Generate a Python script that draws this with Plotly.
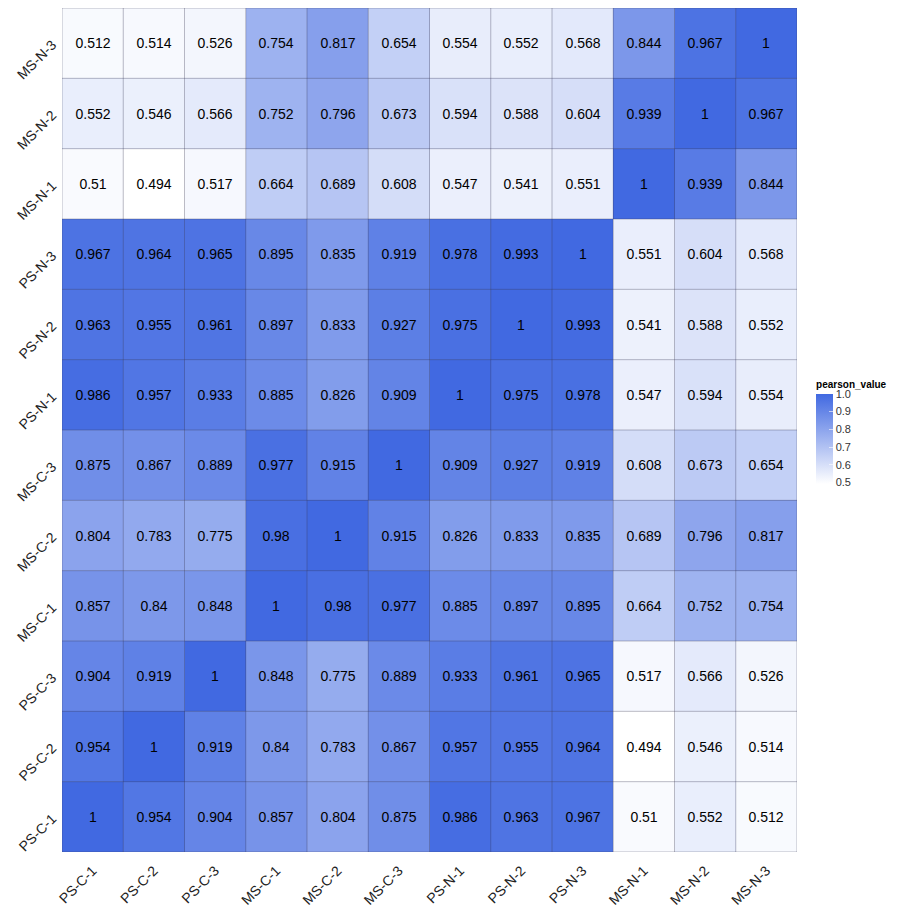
import plotly.graph_objects as go

samples = ["PS-C-1", "PS-C-2", "PS-C-3", "MS-C-1", "MS-C-2", "MS-C-3",
           "PS-N-1", "PS-N-2", "PS-N-3", "MS-N-1", "MS-N-2", "MS-N-3"]

row_PS_C_1 = [1, 0.954, 0.904, 0.857, 0.804, 0.875, 0.986, 0.963, 0.967, 0.51, 0.552, 0.512]
row_PS_C_2 = [0.954, 1, 0.919, 0.84, 0.783, 0.867, 0.957, 0.955, 0.964, 0.494, 0.546, 0.514]
row_PS_C_3 = [0.904, 0.919, 1, 0.848, 0.775, 0.889, 0.933, 0.961, 0.965, 0.517, 0.566, 0.526]
row_MS_C_1 = [0.857, 0.84, 0.848, 1, 0.98, 0.977, 0.885, 0.897, 0.895, 0.664, 0.752, 0.754]
row_MS_C_2 = [0.804, 0.783, 0.775, 0.98, 1, 0.915, 0.826, 0.833, 0.835, 0.689, 0.796, 0.817]
row_MS_C_3 = [0.875, 0.867, 0.889, 0.977, 0.915, 1, 0.909, 0.927, 0.919, 0.608, 0.673, 0.654]
row_PS_N_1 = [0.986, 0.957, 0.933, 0.885, 0.826, 0.909, 1, 0.975, 0.978, 0.547, 0.594, 0.554]
row_PS_N_2 = [0.963, 0.955, 0.961, 0.897, 0.833, 0.927, 0.975, 1, 0.993, 0.541, 0.588, 0.552]
row_PS_N_3 = [0.967, 0.964, 0.965, 0.895, 0.835, 0.919, 0.978, 0.993, 1, 0.551, 0.604, 0.568]
row_MS_N_1 = [0.51, 0.494, 0.517, 0.664, 0.689, 0.608, 0.547, 0.541, 0.551, 1, 0.939, 0.844]
row_MS_N_2 = [0.552, 0.546, 0.566, 0.752, 0.796, 0.673, 0.594, 0.588, 0.604, 0.939, 1, 0.967]
row_MS_N_3 = [0.512, 0.514, 0.526, 0.754, 0.817, 0.654, 0.554, 0.552, 0.568, 0.844, 0.967, 1]

z = [row_PS_C_1, row_PS_C_2, row_PS_C_3, row_MS_C_1, row_MS_C_2, row_MS_C_3,
     row_PS_N_1, row_PS_N_2, row_PS_N_3, row_MS_N_1, row_MS_N_2, row_MS_N_3]

colorbar_ticks = [0.5, 0.6, 0.7, 0.8, 0.9, 1.0]

text = [[("%g" % v) for v in row] for row in z]
n = len(samples)
idx = list(range(n))

FONT = "Liberation Sans, Arial, sans-serif"

fig = go.Figure(go.Heatmap(
    z=z, x=idx, y=idx, text=text, texttemplate="%{text}",
    textfont=dict(size=14, color="black", family=FONT),
    colorscale=[[0, "#ffffff"], [1, "#4169E1"]],
    zmin=0.494, zmax=1,
    colorbar=dict(
        title=dict(text="<b>pearson_value</b>", side="top",
                   font=dict(size=10, color="black")),
        x=1.026, xanchor="left", y=0.562, yanchor="top",
        len=106, lenmode="pixels", thickness=17, ypad=0, xpad=0,
        tickvals=colorbar_ticks, ticktext=["0.5", "0.6", "0.7", "0.8", "0.9", "1.0"],
        tickfont=dict(size=11, color="#333"), outlinewidth=0,
        ticks="inside", tickcolor="rgba(255,255,255,0.6)", ticklen=4,
    ),
    hoverongaps=False,
))

shapes = []
for k in range(n + 1):
    p = k - 0.5
    shapes.append(dict(type="line", xref="x", yref="y", x0=p, x1=p, y0=-0.5, y1=n - 0.5,
                       line=dict(color="rgba(60,60,90,0.35)", width=1), layer="above"))
    shapes.append(dict(type="line", xref="x", yref="y", x0=-0.5, x1=n - 0.5, y0=p, y1=p,
                       line=dict(color="rgba(60,60,90,0.35)", width=1), layer="above"))

fig.update_layout(
    width=892, height=902,
    margin=dict(l=54, r=103, t=0, b=58, autoexpand=False),
    plot_bgcolor="white", paper_bgcolor="white",
    font=dict(family=FONT, color="#222"),
    shapes=shapes,
    xaxis=dict(tickmode="array", tickvals=idx, ticktext=samples, tickangle=-45,
               range=[-0.5, n - 0.5], showgrid=False, zeroline=False, automargin=False,
               tickfont=dict(size=14, color="#222"), ticks="outside", ticklen=4,
               tickcolor="rgba(0,0,0,0)"),
    yaxis=dict(tickmode="array", tickvals=idx, ticktext=samples, tickangle=-45,
               range=[-0.5, n - 0.5], showgrid=False, zeroline=False, automargin=False,
               tickfont=dict(size=14, color="#222"), ticks="outside", ticklen=6,
               tickcolor="rgba(0,0,0,0)"),
)

fig.write_html("out.html")
